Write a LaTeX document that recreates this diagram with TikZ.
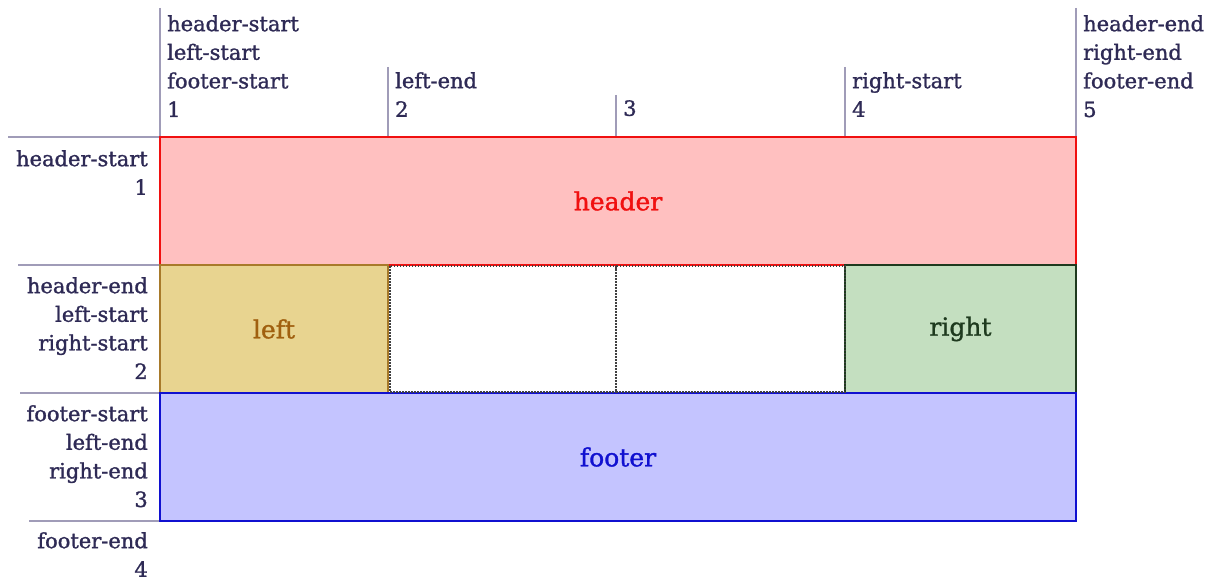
\documentclass[tikz,border=0pt]{standalone}
\usepackage{fontspec}
\setmainfont{DejaVu Serif}
\newfontfamily\slab{DejaVu Serif}[FakeBold=1.3]
\begin{document}
\begin{tikzpicture}[x=1pt,y=-1pt,
  lbl/.style={inner sep=0pt,text=labeltxt,font=\slab\fontsize{21}{28.6}\selectfont},
  gline/.style={draw=gridline,line width=2.6pt},
  area/.style={line width=2.8pt,inner sep=0pt,font=\slab\fontsize{25}{30}\selectfont},
  emptycell/.style={draw=black!75,dash pattern=on 1.5pt off 1.5pt,line width=1.3pt}]
\definecolor{labeltxt}{HTML}{2E2A55}
\definecolor{gridline}{HTML}{A09CB8}
\definecolor{hfill}{HTML}{FFC0C0}
\definecolor{hdraw}{HTML}{F01010}
\definecolor{lfill}{HTML}{E8D490}
\definecolor{ldraw}{HTML}{A87A2A}
\definecolor{ltext}{HTML}{A0600F}
\definecolor{rfill}{HTML}{C4DFC0}
\definecolor{rdraw}{HTML}{1E3A1E}
\definecolor{ffill}{HTML}{C4C4FF}
\definecolor{fdraw}{HTML}{1010D0}
\useasboundingbox (0,0) rectangle (1222,580);
% areas
\node[area,draw=hdraw,fill=hfill,text=hdraw,minimum width=916pt,minimum height=128pt] (header) at (618,201) {header};
\node[area,draw=ldraw,fill=lfill,text=ltext,minimum width=228pt,minimum height=128pt] (left) at (274,329) {left};
\node[area,draw=rdraw,fill=rfill,text=rdraw,minimum width=231pt,minimum height=128pt] (right) at (960.5,329) {right};
\node[area,draw=fdraw,fill=ffill,text=fdraw,minimum width=916pt,minimum height=128pt] (footer) at (618,457) {footer};
% empty cells
\draw[emptycell] (390,266) rectangle (616,392);
\draw[emptycell] (616,266) rectangle (845,392);
% column lines
\draw[gline] (160,8) -- (160,136);
\draw[gline] (388,67) -- (388,136);
\draw[gline] (616,95) -- (616,136);
\draw[gline] (845,67) -- (845,136);
\draw[gline] (1076,8) -- (1076,136);
% row lines
\draw[gline] (8,137) -- (159,137);
\draw[gline] (18,265) -- (159,265);
\draw[gline] (20,393) -- (159,393);
\draw[gline] (29,521) -- (159,521);
% column labels
\node[lbl,anchor=north west,align=left] (c1) at (167,15) {header-start\\left-start\\footer-start\\1};
\node[lbl,anchor=north west,align=left] (c2) at (395,72) {left-end\\2};
\node[lbl,anchor=north west,align=left] (c3) at (623,100) {3};
\node[lbl,anchor=north west,align=left] (c4) at (852,72) {right-start\\4};
\node[lbl,anchor=north west,align=left] (c5) at (1083,15) {header-end\\right-end\\footer-end\\5};
% row labels
\node[lbl,anchor=north east,align=right] (r1) at (148,150) {header-start\\1};
\node[lbl,anchor=north east,align=right] (r2) at (148,277) {header-end\\left-start\\right-start\\2};
\node[lbl,anchor=north east,align=right] (r3) at (148,405) {footer-start\\left-end\\right-end\\3};
\node[lbl,anchor=north east,align=right] (r4) at (148,532) {footer-end\\4};
\end{tikzpicture}
\end{document}
